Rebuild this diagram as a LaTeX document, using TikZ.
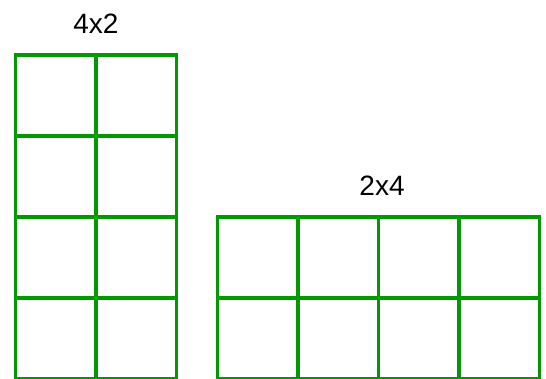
\documentclass[tikz,border=0pt]{standalone}
\usepackage{fontspec}
\setmainfont{Liberation Sans}
\definecolor{gridgreen}{HTML}{009A00}
\usetikzlibrary{positioning}

\begin{document}
\begin{tikzpicture}[
x=1pt, y=1pt,
cell/.style={rectangle, draw=gridgreen, line width=3.5pt, minimum width=80.5pt, minimum height=81pt, inner sep=0pt, outer sep=0pt},
caption/.style={font=\fontsize{28}{32}\selectfont, inner sep=0pt}
]
\useasboundingbox (0,0) rectangle (546,378);
% tall grid: 4 rows, 2 columns
\foreach \r in {1,...,4}
  \foreach \c in {1,2}
    \node (tall-\r-\c) [cell] at ({15.5+80.5*(\c-0.5)}, {378-55-81*(\r-0.5)}) {};
% wide grid: 2 rows, 4 columns
\foreach \r in {1,2}
  \foreach \c in {1,...,4}
    \node (wide-\r-\c) [cell] at ({217.5+80.5*(\c-0.5)}, {378-217-81*(\r-0.5)}) {};

\node (talllabel) [caption] at (96,354) {4x2};
\node (widelabel) [caption] at (382,192) {2x4};
\end{tikzpicture}
\end{document}
